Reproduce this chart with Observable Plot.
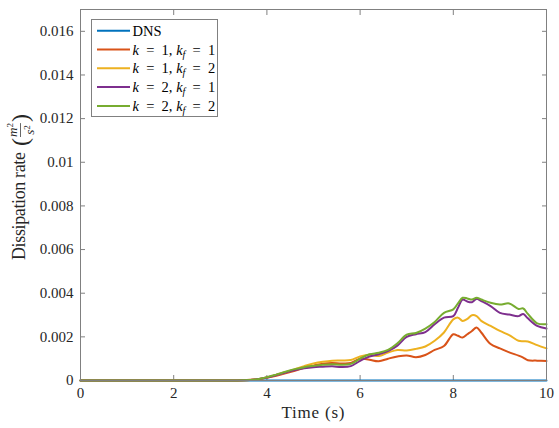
<!DOCTYPE html>
<html><head><meta charset="utf-8">
<script src="https://cdn.jsdelivr.net/npm/d3@7"></script>
<script src="https://cdn.jsdelivr.net/npm/@observablehq/plot@0.6"></script>
<style>body{margin:0;background:#fff} #chart svg text{font-family:'Liberation Serif','Times New Roman',serif !important}</style>
</head><body><div id="chart"></div>
<script>
const time = [0,0.5,1,1.5,2,2.5,3,3.5,3.8,4.0,4.2,4.4,4.6,4.8,5.0,5.2,5.4,5.6,5.8,6.0,6.2,6.4,6.6,6.8,7.0,7.2,7.4,7.6,7.8,8.0,8.1,8.2,8.3,8.4,8.5,8.6,8.8,9.0,9.2,9.4,9.5,9.6,9.8,10.0];
const dns  = [0,0,0,0,0,0,0,0,0,0,0,0,0,0,0,0,0,0,0,0,0,0,0,0,0,0,0,0,0,0,0,0,0,0,0,0,0,0,0,0,0,0,0,0];
const k1kf1 = [0,0,0,0,0,0,0,0.00001,0.00006,0.00013,0.00022,0.00033,0.00045,0.00058,0.00068,0.00077,0.00080,0.00078,0.00080,0.00100,0.00095,0.00088,0.00100,0.00110,0.00115,0.00107,0.00117,0.00140,0.00158,0.00212,0.00205,0.00197,0.00212,0.00227,0.00243,0.00220,0.00167,0.00147,0.00129,0.00114,0.00105,0.00093,0.00091,0.00089];
const k1kf2 = [0,0,0,0,0,0,0,0.00001,0.00006,0.00015,0.00026,0.00038,0.00052,0.00066,0.00078,0.00086,0.00091,0.00092,0.00094,0.00110,0.00118,0.00112,0.00128,0.00140,0.00138,0.00145,0.00156,0.00182,0.00220,0.00280,0.00288,0.00273,0.00282,0.00299,0.00295,0.00273,0.00250,0.00227,0.00208,0.00182,0.00180,0.00179,0.00162,0.00147];
const k2kf1 = [0,0,0,0,0,0,0,0.00001,0.00006,0.00014,0.00025,0.00037,0.00048,0.00056,0.00061,0.00063,0.00065,0.00062,0.00066,0.00090,0.00110,0.00120,0.00135,0.00160,0.00200,0.00212,0.00222,0.00258,0.00288,0.00295,0.00333,0.00371,0.00362,0.00359,0.00374,0.00364,0.00341,0.00310,0.00302,0.00295,0.00305,0.00285,0.00250,0.00238];
const k2kf2 = [0,0,0,0,0,0,0,0.00001,0.00006,0.00015,0.00027,0.00040,0.00052,0.00061,0.00067,0.00072,0.00075,0.00072,0.00076,0.00100,0.00120,0.00127,0.00140,0.00170,0.00210,0.00218,0.00238,0.00268,0.00310,0.00326,0.00353,0.00379,0.00376,0.00371,0.00379,0.00371,0.00356,0.00348,0.00353,0.00328,0.00330,0.00305,0.00262,0.00258];
const seriesNames = ["DNS","k1kf1","k1kf2","k2kf1","k2kf2"];
const seriesColors = ["#0072BD","#D95319","#EDB120","#7E2F8E","#77AC30"];
const legendLabels = [
  [["DNS",""]],
  [["k","i"],["\u2002=\u20021, ",""],["k","i"],["f","s"],["\u2002=\u20021","r"]],
  [["k","i"],["\u2002=\u20021, ",""],["k","i"],["f","s"],["\u2002=\u20022","r"]],
  [["k","i"],["\u2002=\u20022, ",""],["k","i"],["f","s"],["\u2002=\u20021","r"]],
  [["k","i"],["\u2002=\u20022, ",""],["k","i"],["f","s"],["\u2002=\u20022","r"]]
];
const xTicks = [0,2,4,6,8,10];
const yTicks = [0,0.002,0.004,0.006,0.008,0.01,0.012,0.014,0.016];

const seriesValues = [dns,k1kf1,k1kf2,k2kf1,k2kf2];
const rows = seriesNames.flatMap((n,j) => time.map((t,i) => ({t, v: seriesValues[j][i], name: n})));
const FONT = "'Liberation Serif', 'Times New Roman', serif";
const yFmt = d => d === 0 ? "0" : String(+d.toFixed(3));

const plot = Plot.plot({
  width: 559, height: 428,
  marginLeft: 80, marginRight: 13, marginTop: 9, marginBottom: 48,
  style: {fontFamily: FONT, fontSize: "14px", color: "#262626", background: "#fff"},
  x: {domain: [0, 10]},
  y: {domain: [0, 0.017]},
  color: {domain: seriesNames, range: seriesColors},
  marks: [
    Plot.axisX({ticks: xTicks, tickSize: -5, tickPadding: 12, label: null, stroke: "#808080", fill: "#262626", fontSize: 15}),
    Plot.axisX({anchor: "top", ticks: xTicks, tickSize: -5, tickFormat: () => "", label: null, stroke: "#808080"}),
    Plot.axisY({ticks: yTicks, tickSize: -5, tickPadding: 12, tickFormat: yFmt, label: null, stroke: "#808080", fill: "#262626", fontSize: 15}),
    Plot.axisY({anchor: "right", ticks: yTicks, tickSize: -5, tickFormat: () => "", label: null, stroke: "#808080"}),
    Plot.line(rows, {x: "t", y: "v", z: "name", stroke: "name", strokeWidth: 2, curve: "catmull-rom"}),
    Plot.frame({stroke: "#808080"})
  ]
});
document.getElementById("chart").appendChild(plot);

const svg = d3.select(plot);
// x label
svg.append("text").attr("x", 313).attr("y", 418).attr("text-anchor", "middle")
  .attr("font-size", 17).attr("fill", "#262626").attr("textLength", 63).attr("lengthAdjust", "spacing").text("Time (s)");

// y label with fraction
const g = svg.append("g").attr("fill", "#262626").attr("text-anchor", "start");
g.append("text").attr("x", 0).attr("y", 0).attr("font-size", 18)
  .attr("textLength", 108).attr("lengthAdjust", "spacing").text("Dissipation rate");
const px = 114;
const pl = g.append("text").attr("x", px).attr("y", 3).attr("font-size", 24).text("(");
const wp = pl.node().getComputedTextLength();
const fx = px + wp + 1;
const num = g.append("text").attr("x", fx).attr("y", -8).attr("font-size", 13);
num.append("tspan").attr("font-style", "italic").text("m");
num.append("tspan").attr("font-size", 9).attr("dy", -4).text("2");
const den = g.append("text").attr("x", fx).attr("y", 9).attr("font-size", 13);
den.append("tspan").attr("font-style", "italic").text("s");
den.append("tspan").attr("font-size", 9).attr("dy", -4).text("2");
const fw = Math.max(num.node().getComputedTextLength(), den.node().getComputedTextLength());
num.attr("x", fx + (fw - num.node().getComputedTextLength()) / 2);
den.attr("x", fx + (fw - den.node().getComputedTextLength()) / 2);
g.append("line").attr("x1", fx).attr("x2", fx + fw).attr("y1", -4.5).attr("y2", -4.5).attr("stroke", "#262626").attr("stroke-width", 0.7);
g.append("text").attr("x", fx + fw + 1).attr("y", 3).attr("font-size", 24).text(")");
g.attr("transform", `translate(25,${260}) rotate(-90)`);

// legend
const lg = svg.append("g").attr("font-size", 14.5).attr("fill", "#000").attr("text-anchor", "start");
const lx = 91.5, ly = 19.5, rowH = 18.8;
lg.append("rect").attr("x", lx).attr("y", ly).attr("width", 126).attr("height", 97)
  .attr("fill", "#fff").attr("stroke", "#808080").attr("stroke-width", 1);
legendLabels.forEach((parts, i) => {
  const cy = 30.7 + i * rowH;
  lg.append("line").attr("x1", 97).attr("x2", 130).attr("y1", cy).attr("y2", cy)
    .attr("stroke", seriesColors[i]).attr("stroke-width", 2);
  const tx = lg.append("text").attr("x", 132.5).attr("y", cy + 5);
  parts.forEach(([s, st]) => {
    const sp = tx.append("tspan").text(s);
    if (st === "i") sp.attr("font-style", "italic");
    if (st === "s") sp.attr("font-style", "italic").attr("font-size", 10).attr("dy", 3);
    if (st === "r") sp.attr("dy", -3);
  });
});
</script>
</body></html>
